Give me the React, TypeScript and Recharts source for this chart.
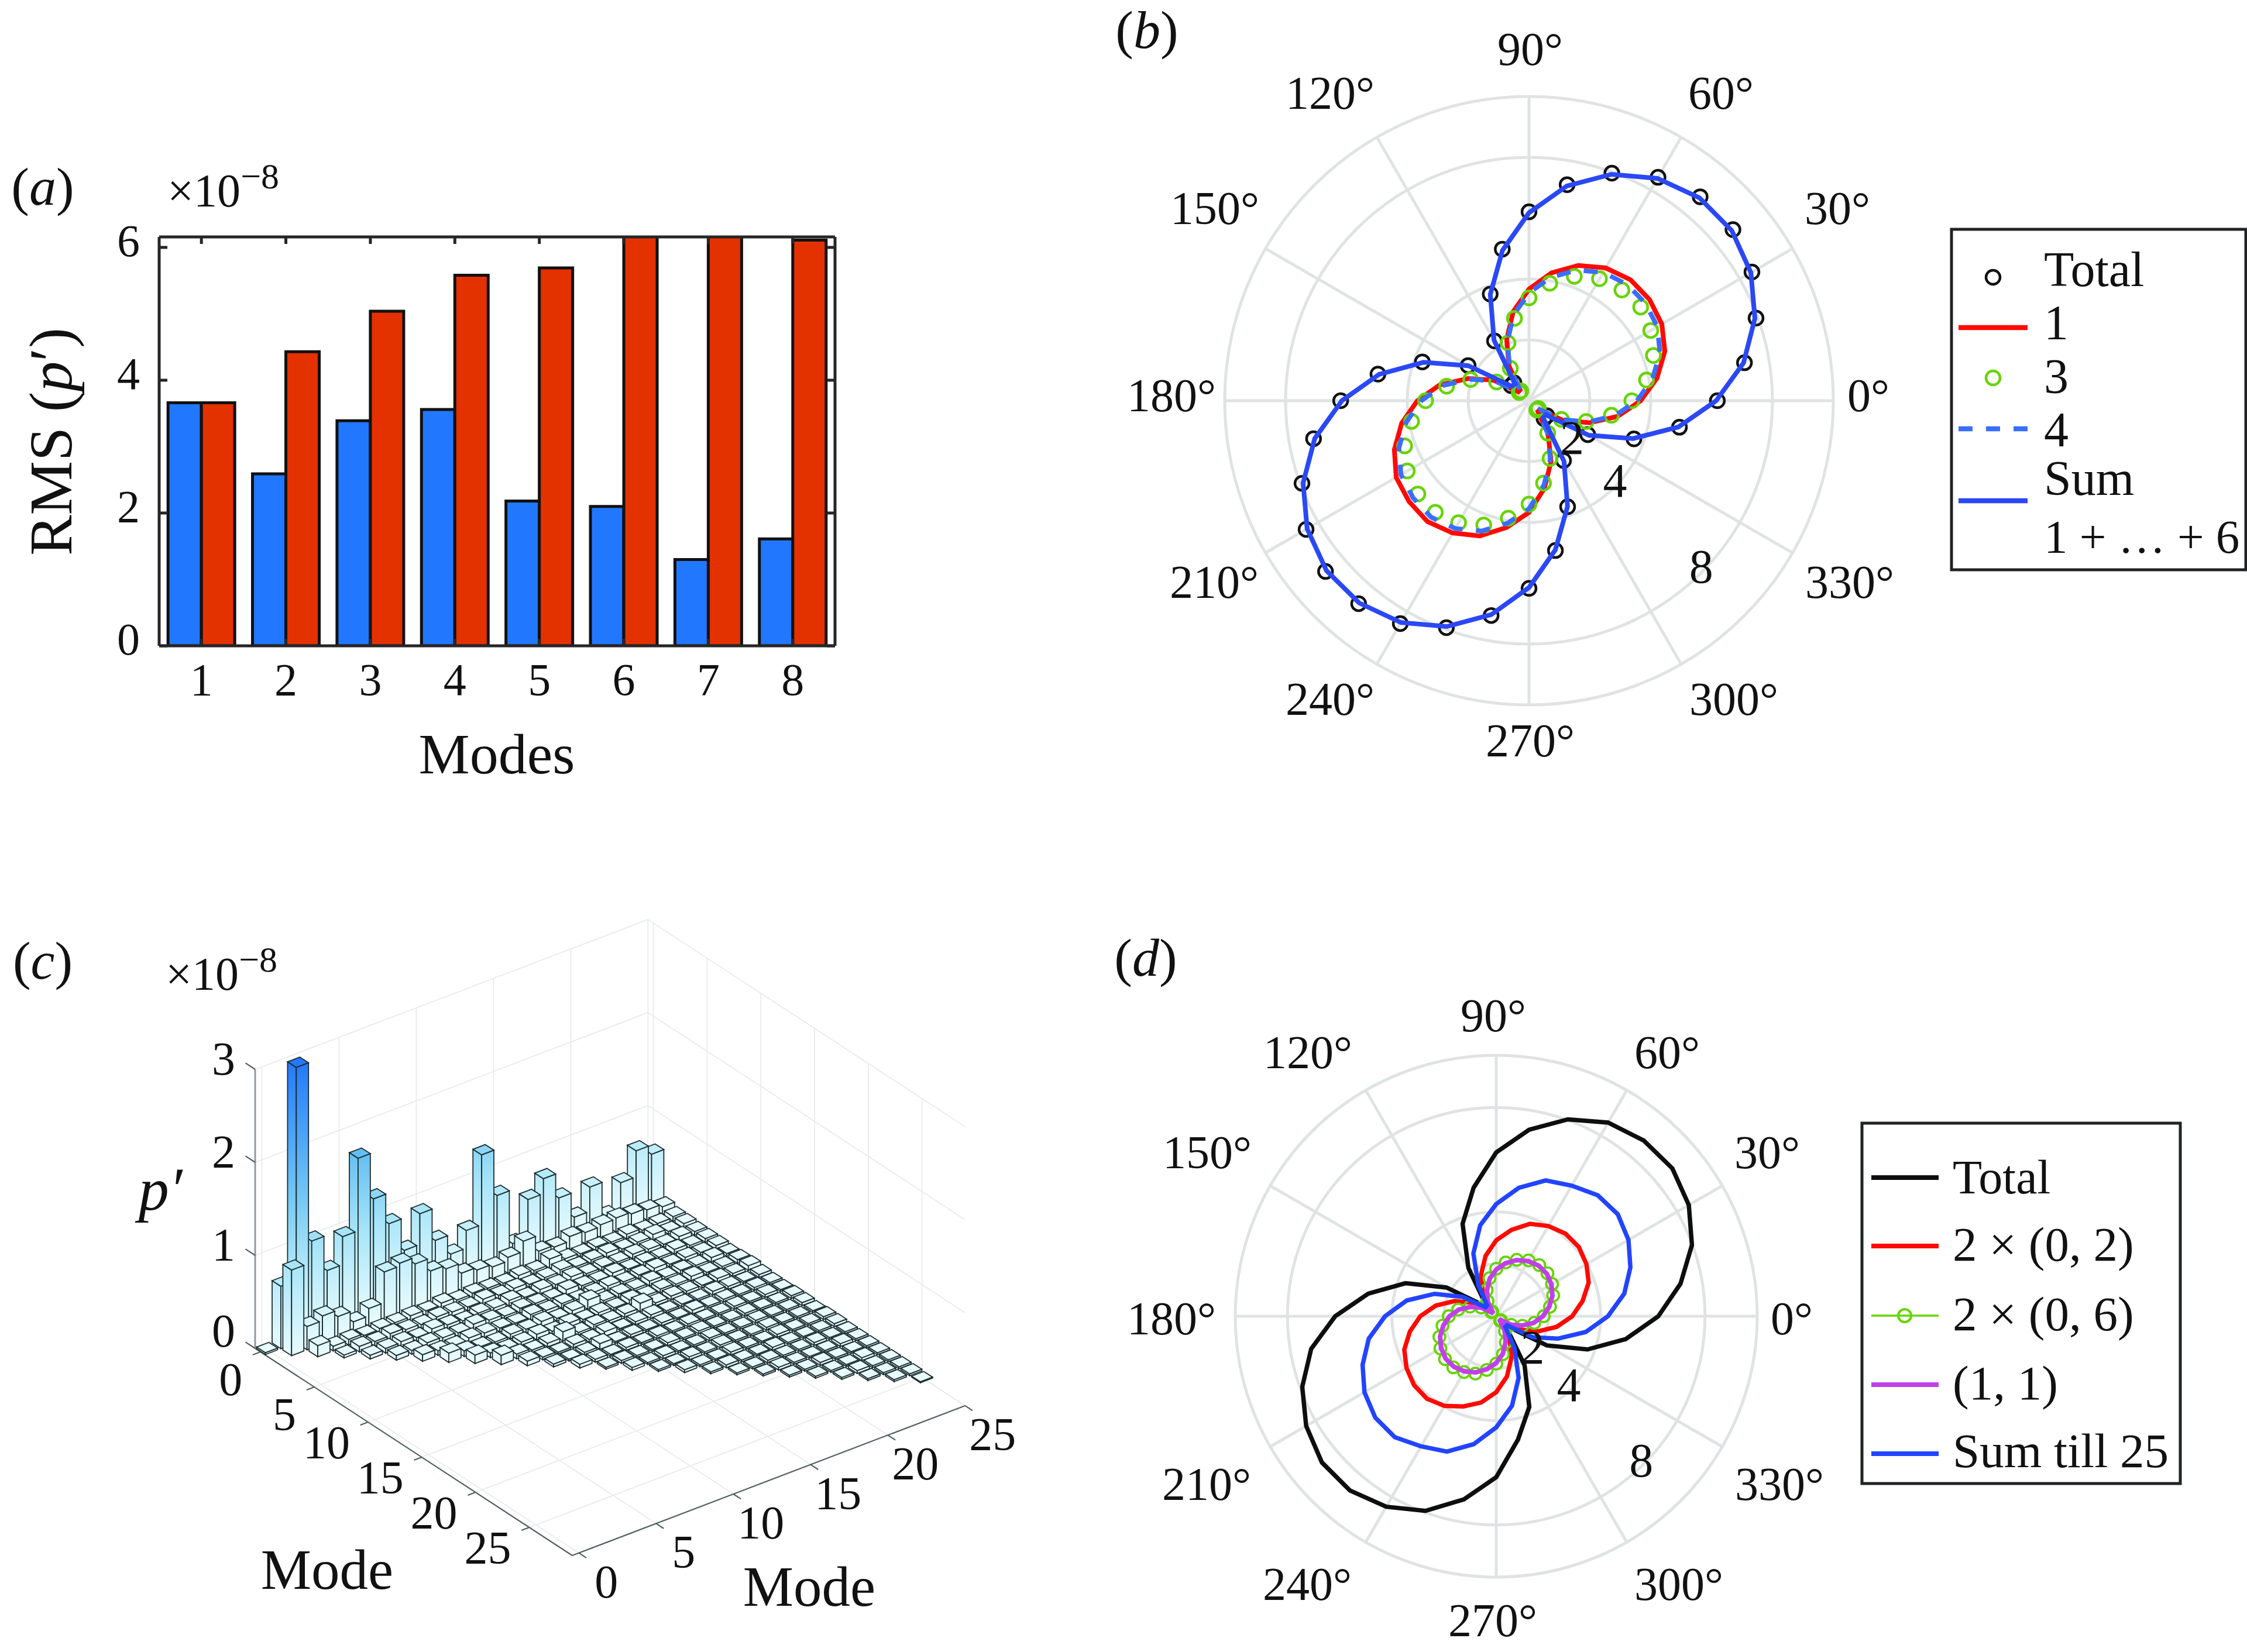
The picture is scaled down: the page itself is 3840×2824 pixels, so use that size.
import {
  Bar,
  BarChart,
  PolarAngleAxis,
  PolarGrid,
  PolarRadiusAxis,
  Radar,
  RadarChart,
  ReferenceLine,
  Scatter,
  ScatterChart,
  XAxis,
  YAxis,
} from 'recharts';

const SERIF = '"Liberation Serif", "Times New Roman", serif';
const INK = '#111111';

// panel (a)
const modes = [1, 2, 3, 4, 5, 6, 7, 8];
const rmsBlue = [3.66, 2.59, 3.39, 3.56, 2.18, 2.1, 1.3, 1.61];
const rmsRed = [3.66, 4.43, 5.04, 5.58, 5.69, 6.4, 6.4, 6.11];
const rmsTicks = [0, 2, 4, 6];

// panels (b) and (d): one radius every 10 degrees
const thetas = [
  0, 10, 20, 30, 40, 50, 60, 70, 80, 90, 100, 110, 120, 130, 140, 150, 160, 170,
  180, 190, 200, 210, 220, 230, 240, 250, 260, 270, 280, 290, 300, 310, 320, 330, 340, 350,
];
const spokeAngles = [0, 30, 60, 90, 120, 150, 180, 210, 240, 270, 300, 330];
const ringValues = [2, 4, 8, 10];
const radiusTicks = [2, 4, 8];

const bTotal = [
  6.19, 7.19, 7.94, 8.46, 8.75, 8.75, 8.48, 7.96, 7.21, 6.21, 5.06, 3.73, 2.27, 0.77, 0.77, 2.31, 3.73, 5.04,
  6.19, 7.19, 7.94, 8.46, 8.73, 8.71, 8.46, 7.94, 7.17, 6.17, 5.0, 3.71, 2.27, 0.77, 0.77, 2.23, 3.67, 5.02,
];
const bMode1 = [
  3.67, 4.27, 4.75, 5.04, 5.17, 5.19, 5.04, 4.73, 4.27, 3.67, 2.98, 2.15, 1.31, 0.46, 0.46, 1.35, 2.13, 2.98,
  3.67, 4.25, 4.71, 5.04, 5.15, 5.19, 5.02, 4.73, 4.23, 3.67, 2.92, 2.12, 1.25, 0.46, 0.46, 1.27, 2.12, 2.96,
];
const bMode3 = [
  3.38, 3.92, 4.35, 4.62, 4.79, 4.75, 4.63, 4.35, 3.92, 3.38, 2.75, 2.02, 1.23, 0.42, 0.42, 1.23, 2.04, 2.75,
  3.4, 3.92, 4.35, 4.62, 4.77, 4.79, 4.63, 4.35, 3.92, 3.4, 2.75, 2.02, 1.23, 0.4, 0.4, 1.23, 2.0, 2.75,
];
const bMode4 = [
  3.55, 4.12, 4.58, 4.87, 4.99, 5.0, 4.87, 4.57, 4.12, 3.54, 2.88, 2.08, 1.27, 0.45, 0.45, 1.3, 2.06, 2.88,
  3.54, 4.1, 4.55, 4.86, 4.97, 5.0, 4.85, 4.56, 4.09, 3.55, 2.82, 2.05, 1.21, 0.45, 0.45, 1.23, 2.05, 2.86,
];
const bSum = [
  6.15, 7.16, 7.9, 8.42, 8.7, 8.71, 8.44, 7.92, 7.17, 6.18, 5.02, 3.72, 2.3, 0.72, 0.74, 2.3, 3.69, 5.0,
  6.15, 7.15, 7.9, 8.42, 8.69, 8.68, 8.42, 7.9, 7.14, 6.14, 4.98, 3.7, 2.3, 0.72, 0.72, 2.27, 3.64, 4.98,
];

const dTotal = [
  6.21, 7.17, 7.98, 8.52, 8.81, 8.79, 8.57, 8.03, 7.26, 6.28, 5.0, 3.77, 2.13, 0.67, 0.67, 2.2, 3.7, 4.98,
  6.17, 7.2, 7.91, 8.41, 8.72, 8.72, 8.43, 7.94, 7.13, 6.17, 4.8, 3.7, 2.17, 0.67, 0.67, 2.24, 3.72, 5.04,
];
const dTwoZeroTwo = [
  2.91, 3.36, 3.77, 3.99, 4.13, 4.13, 3.99, 3.77, 3.36, 2.91, 2.35, 1.7, 1.03, 0.36, 0.36, 1.03, 1.7, 2.35,
  2.91, 3.36, 3.75, 3.97, 4.11, 4.13, 3.97, 3.68, 3.36, 2.91, 2.35, 1.7, 1.03, 0.36, 0.36, 1.03, 1.7, 2.35,
];
const dTwoZeroSix = [
  1.82, 2.09, 2.32, 2.47, 2.56, 2.56, 2.47, 2.3, 2.09, 1.82, 1.48, 1.07, 0.67, 0.24, 0.24, 0.67, 1.07, 1.48,
  1.82, 2.09, 2.32, 2.47, 2.56, 2.56, 2.47, 2.34, 2.09, 1.82, 1.48, 1.07, 0.67, 0.24, 0.24, 0.67, 1.07, 1.48,
];
const dOneOne = [
  1.79, 2.06, 2.29, 2.44, 2.53, 2.53, 2.44, 2.29, 2.06, 1.79, 1.46, 1.05, 0.65, 0.22, 0.22, 0.65, 1.05, 1.46,
  1.79, 2.06, 2.29, 2.44, 2.53, 2.53, 2.44, 2.29, 2.06, 1.79, 1.46, 1.05, 0.65, 0.22, 0.22, 0.65, 1.05, 1.46,
];
const dSum = [
  4.28, 4.98, 5.47, 5.85, 6.08, 6.05, 5.78, 5.54, 5.0, 4.3, 3.54, 2.56, 1.37, 0.54, 0.54, 1.48, 2.51, 3.48,
  4.26, 4.96, 5.45, 5.83, 6.05, 6.05, 5.76, 5.52, 4.98, 4.26, 3.48, 2.51, 1.39, 0.54, 0.54, 1.61, 2.51, 3.48,
];

// panel (c): row i holds the bars for j = i ... 25
const modeRows = [
  [0.02, 0.67, 2.96, 1.03, 0.65, 0.95, 1.73, 1.23, 0.9, 0.55, 0.88, 0.53, 0.32, 0.51, 1.26, 0.76, 0.18, 0.59, 0.75, 0.48, 0.21, 0.47, 0.1, 0.39, 0.67, 0.57],
  [0.92, 0.25, 0.3, 0.23, 0.11, 0.19, 0.52, 0.55, 0.48, 0.34, 0.3, 0.19, 0.16, 0.13, 0.17, 0.28, 0.11, 0.09, 0.14, 0.12, 0.14, 0.15, 0.13, 0.11, 0.08],
  [0.12, 0.05, 0.06, 0.04, 0.05, 0.05, 0.06, 0.05, 0.07, 0.04, 0.05, 0.04, 0.03, 0.05, 0.04, 0.1, 0.04, 0.03, 0.04, 0.03, 0.05, 0.03, 0.04, 0.05],
  [0.03, 0.06, 0.05, 0.07, 0.05, 0.04, 0.06, 0.05, 0.04, 0.06, 0.04, 0.05, 0.03, 0.04, 0.06, 0.03, 0.04, 0.05, 0.03, 0.04, 0.06, 0.03, 0.05],
  [0.04, 0.05, 0.06, 0.04, 0.07, 0.05, 0.03, 0.05, 0.04, 0.06, 0.03, 0.05, 0.04, 0.06, 0.03, 0.04, 0.03, 0.05, 0.04, 0.03, 0.05, 0.04],
  [0.05, 0.04, 0.06, 0.05, 0.04, 0.07, 0.05, 0.03, 0.05, 0.04, 0.03, 0.06, 0.04, 0.03, 0.05, 0.03, 0.04, 0.03, 0.05, 0.03, 0.04],
  [0.07, 0.05, 0.04, 0.06, 0.05, 0.04, 0.03, 0.06, 0.04, 0.05, 0.03, 0.04, 0.05, 0.03, 0.04, 0.05, 0.03, 0.04, 0.03, 0.04],
  [0.1, 0.06, 0.04, 0.03, 0.05, 0.04, 0.06, 0.03, 0.05, 0.1, 0.03, 0.04, 0.03, 0.05, 0.03, 0.04, 0.03, 0.05, 0.03],
  [0.09, 0.05, 0.03, 0.04, 0.06, 0.03, 0.05, 0.03, 0.04, 0.03, 0.05, 0.03, 0.04, 0.03, 0.05, 0.03, 0.03, 0.04],
  [0.1, 0.05, 0.03, 0.04, 0.1, 0.03, 0.05, 0.03, 0.04, 0.09, 0.03, 0.04, 0.03, 0.03, 0.04, 0.03, 0.05],
  [0.05, 0.03, 0.02, 0.04, 0.03, 0.05, 0.02, 0.03, 0.04, 0.02, 0.03, 0.02, 0.04, 0.03, 0.02, 0.03],
  [0.03, 0.02, 0.03, 0.06, 0.02, 0.03, 0.02, 0.03, 0.02, 0.04, 0.02, 0.03, 0.02, 0.03, 0.02],
  [0.04, 0.03, 0.02, 0.03, 0.02, 0.03, 0.02, 0.03, 0.02, 0.02, 0.03, 0.02, 0.03, 0.02],
  [0.02, 0.03, 0.02, 0.02, 0.03, 0.02, 0.03, 0.02, 0.02, 0.03, 0.02, 0.02, 0.03],
  [0.03, 0.02, 0.03, 0.02, 0.02, 0.03, 0.02, 0.02, 0.03, 0.02, 0.02, 0.03],
  [0.02, 0.02, 0.03, 0.02, 0.03, 0.02, 0.02, 0.03, 0.02, 0.02, 0.02],
  [0.03, 0.02, 0.02, 0.03, 0.02, 0.02, 0.03, 0.02, 0.02, 0.03],
  [0.02, 0.03, 0.02, 0.02, 0.03, 0.02, 0.02, 0.02, 0.03],
  [0.02, 0.02, 0.03, 0.02, 0.02, 0.03, 0.02, 0.02],
  [0.02, 0.03, 0.02, 0.02, 0.02, 0.03, 0.02],
  [0.02, 0.02, 0.03, 0.02, 0.02, 0.02],
  [0.02, 0.02, 0.02, 0.03, 0.02],
  [0.02, 0.03, 0.02, 0.02],
  [0.02, 0.02, 0.02],
  [0.02, 0.02],
  [0.01],
];
const floorTicks = [0, 5, 10, 15, 20, 25];
const heightTicks = [0, 1, 2, 3];

// oblique view used by panel (c): chart units are page pixels, y measured from the page bottom
const I_MIN = -0.5;
const I_MAX = 29;
const J_MIN = -0.43;
const J_MAX = 25;
const toView = (i: number, j: number, z = 0) => ({
  u: 436 + (i - I_MIN) * 18.37 + (j - J_MIN) * 26.4,
  v: 2824 - (2305 + (i - I_MIN) * 12 - (j - J_MIN) * 10.07) + z * 159,
});

const barData = modes.map((m, k) => ({ mode: m, blue: rmsBlue[k], red: rmsRed[k] }));
const polarRows = (series: Record<string, number[]>) =>
  thetas.map((theta, k) => {
    const row: Record<string, number> = { theta };
    Object.keys(series).forEach(name => {
      row[name] = series[name][k];
    });
    return row;
  });
const bData = polarRows({ total: bTotal, one: bMode1, three: bMode3, four: bMode4, sum: bSum });
const dData = polarRows({ total: dTotal, two: dTwoZeroTwo, six: dTwoZeroSix, oneOne: dOneOne, sum: dSum });

// back bars first, so nearer bars paint over them
const bar3Data = modeRows.flatMap((row, i) =>
  row
    .map((z, k) => ({ i, j: i + k, z, ...toView(i, i + k) }))
    .reverse(),
);

const heightStops: [number, number[]][] = [
  [0, [233, 251, 255]],
  [0.9, [170, 230, 248]],
  [1.75, [98, 189, 241]],
  [3, [34, 119, 255]],
];
function heightColor(z: number) {
  for (let k = 1; k < heightStops.length; k++) {
    const [z1, c1] = heightStops[k];
    const [z0, c0] = heightStops[k - 1];
    if (z <= z1) {
      const t = (z - z0) / (z1 - z0);
      return `rgb(${c0.map((c, n) => Math.round(c + (c1[n] - c) * t)).join(',')})`;
    }
  }
  return 'rgb(34,119,255)';
}

function Cuboid(props: any) {
  const { cx, cy, payload } = props;
  const h = payload.z * 159;
  const id = `bar-${payload.i}-${payload.j}`;
  const top = heightColor(payload.z);
  const edge = '#1b2b2e';
  const pts = (list: number[][]) => list.map(p => `${cx + p[0]},${cy + p[1]}`).join(' ');
  return (
    <g>
      <defs>
        <linearGradient id={id} x1="0" y1="0" x2="0" y2="1">
          {[0, 0.25, 0.5, 0.75, 1].map(f => (
            <stop key={f} offset={`${f * 100}%`} stopColor={heightColor(payload.z * (1 - f))} />
          ))}
        </linearGradient>
      </defs>
      <polygon points={pts([[-17.9, -0.8 - h], [-3, 8.8 - h], [-3, 8.8], [-17.9, -0.8]])} fill={`url(#${id})`} stroke={edge} strokeWidth={1.8} />
      <polygon points={pts([[-3, 8.8 - h], [17.9, 0.8 - h], [17.9, 0.8], [-3, 8.8]])} fill={`url(#${id})`} stroke={edge} strokeWidth={1.8} />
      <polygon points={pts([[-17.9, -0.8 - h], [3, -8.8 - h], [17.9, 0.8 - h], [-3, 8.8 - h]])} fill={top} stroke={edge} strokeWidth={1.8} />
    </g>
  );
}

function ViewText(props: any) {
  const { cx, cy, payload } = props;
  return (
    <text x={cx + payload.dx} y={cy + payload.dy} textAnchor={payload.anchor} fontFamily={SERIF} fontSize={80} fill={INK}>
      {payload.text}
    </text>
  );
}

const viewLabels = [
  ...floorTicks.map(t => ({
    text: String(t),
    anchor: 'end',
    dx: -31,
    dy: t < 10 ? 74 : 62,
    ...toView(t, J_MIN),
  })),
  ...floorTicks.map(t => ({
    text: String(t),
    anchor: 'middle',
    dx: 47,
    dy: 76,
    ...toView(I_MAX, t),
  })),
  ...heightTicks.map(t => ({
    text: String(t),
    anchor: 'middle',
    dx: -54,
    dy: t === 0 ? -3 : 9,
    ...toView(I_MIN, J_MIN, t),
  })),
];

type Pt = [number, number, number];
const GRID3 = '#e9ebeb';
const AXIS3 = '#4f5f60';
const seg = (a: Pt, b: Pt) => {
  const p = toView(a[0], a[1], a[2]);
  const q = toView(b[0], b[1], b[2]);
  return [
    { x: p.u, y: p.v },
    { x: q.u, y: q.v },
  ];
};
const gridSegments = [
  ...floorTicks.map(t => seg([t, J_MIN, 0], [t, J_MAX, 0])),
  ...floorTicks.map(t => seg([I_MIN, t, 0], [I_MAX, t, 0])),
  ...floorTicks.map(t => seg([I_MIN, t, 0], [I_MIN, t, 3])),
  ...floorTicks.map(t => seg([t, J_MAX, 0], [t, J_MAX, 3])),
  ...heightTicks.map(z => seg([I_MIN, J_MIN, z], [I_MIN, J_MAX, z])),
  ...heightTicks.map(z => seg([I_MIN, J_MAX, z], [I_MAX, J_MAX, z])),
];
const axisSegments = [
  seg([I_MIN, J_MIN, 0], [I_MAX, J_MIN, 0]),
  seg([I_MAX, J_MIN, 0], [I_MAX, J_MAX, 0]),
  ...floorTicks.map(t => seg([t, J_MIN, 0], [t, J_MIN - 0.5, 0])),
  ...floorTicks.map(t => seg([I_MAX, t, 0], [I_MAX + 0.7, t, 0])),
  ...heightTicks.map(z => seg([I_MIN, J_MIN, z], [I_MIN - 0.9, J_MIN, z])),
];

function RmsPanel() {
  const axisColor = '#262626';
  const bottomTick = (p: any) => (
    <g>
      <line x1={p.x} x2={p.x} y1={p.y} y2={p.y - 12} stroke={axisColor} strokeWidth={5} />
      <text x={p.x} y={p.y + 84} textAnchor="middle" fontFamily={SERIF} fontSize={78} fill={INK}>
        {p.payload.value}
      </text>
    </g>
  );
  const topTick = (p: any) => <line x1={p.x} x2={p.x} y1={p.y} y2={p.y + 12} stroke={axisColor} strokeWidth={5} />;
  const leftTick = (p: any) => (
    <g>
      <line x1={p.x} x2={p.x + 14} y1={p.y} y2={p.y} stroke={axisColor} strokeWidth={5} />
      <text x={p.x - 33} y={p.y + 15} textAnchor="end" fontFamily={SERIF} fontSize={78} fill={INK}>
        {p.payload.value}
      </text>
    </g>
  );
  const rightTick = (p: any) => <line x1={p.x} x2={p.x - 14} y1={p.y} y2={p.y} stroke={axisColor} strokeWidth={5} />;
  return (
    <div style={{ position: 'absolute', left: 0, top: 0 }}>
      <BarChart
        width={1500}
        height={1400}
        data={barData}
        margin={{ left: 271, top: 404, right: 72, bottom: 295 }}
        barCategoryGap="10.5%"
        barGap={0}
      >
        <XAxis dataKey="mode" height={1} interval={0} tickLine={false} tickSize={0} tickMargin={0} stroke={axisColor} strokeWidth={5} tick={bottomTick} />
        <XAxis xAxisId="top" dataKey="mode" orientation="top" height={1} interval={0} tickLine={false} tickSize={0} tickMargin={0} stroke={axisColor} strokeWidth={5} tick={topTick} />
        <YAxis width={1} domain={[0, 6.158]} ticks={rmsTicks} allowDataOverflow tickLine={false} tickSize={0} tickMargin={0} stroke={axisColor} strokeWidth={5} tick={leftTick} />
        <YAxis yAxisId="right" orientation="right" width={1} domain={[0, 6.158]} ticks={rmsTicks} allowDataOverflow tickLine={false} tickSize={0} tickMargin={0} stroke={axisColor} strokeWidth={5} tick={rightTick} />
        <Bar dataKey="blue" fill="#2277ff" stroke={INK} strokeWidth={5} isAnimationActive={false} />
        <Bar dataKey="red" fill="#e43100" stroke={INK} strokeWidth={5} isAnimationActive={false} />
      </BarChart>
    </div>
  );
}

// marker-only radar series; drawn as the series shape so later series paint over the markers
function markerShape(color: string, r: number, width: number, lineWidth = 0) {
  return (p: any) => (
    <g>
      {lineWidth > 0 && (
        <polygon points={p.points.map((q: any) => `${q.x},${q.y}`).join(' ')} fill="none" stroke={color} strokeWidth={lineWidth} />
      )}
      {p.points.map((q: any, k: number) => (
        <circle key={k} cx={q.x} cy={q.y} r={r} fill="none" stroke={color} strokeWidth={width} />
      ))}
    </g>
  );
}

const GRID_POLAR = '#dfe3e3';

// where each angle label sits, in pixels from the centre (x right, y up)
const bLabelPlace: Record<number, number[]> = {
  0: [580, 9], 30: [527, 329], 60: [328, 526], 90: [2, 601], 120: [-340, 526], 150: [-537, 329],
  180: [-611, 9], 210: [-538, -310], 240: [-340, -510], 270: [2, -581], 300: [350, -510], 330: [548, -310],
};
const dLabelPlace: Record<number, number[]> = {
  0: [505, -4], 30: [463, 280], 60: [292, 451], 90: [-5, 514], 120: [-322, 451], 150: [-494, 280],
  180: [-555, -4], 210: [-495, -287], 240: [-323, -458], 270: [-6, -520], 300: [312, -458], 330: [484, -287],
};

function polarAxes(cx: number, cy: number, R: number, radiusAngle: number, place: Record<number, number[]>) {
  const angleTick = (p: any) => {
    const value = p.payload.value;
    const spot = place[value];
    if (!spot) return <g />;
    return (
      <text x={cx + spot[0]} y={cy - spot[1] + 27} textAnchor="middle" fontFamily={SERIF} fontSize={80} fill={INK}>
        {`${value}°`}
      </text>
    );
  };
  const radiusTick = (p: any) => (
    <text x={p.x} y={p.y + 17} textAnchor="middle" fontFamily={SERIF} fontSize={82} fill={INK}>
      {p.payload.value}
    </text>
  );
  return [
    <PolarGrid
      key="grid"
      gridType="circle"
      polarAngles={spokeAngles}
      polarRadius={ringValues.map(v => (v * R) / 10)}
      stroke={GRID_POLAR}
      strokeWidth={5}
    />,
    <PolarAngleAxis key="angle" dataKey="theta" type="number" domain={[0, 360]} ticks={spokeAngles as any} axisLine={false} tickLine={false} tick={angleTick} />,
    <PolarRadiusAxis key="radius" angle={radiusAngle} type="number" domain={[0, 10]} ticks={radiusTicks as any} axisLine={false} tickLine={false} tick={radiusTick} />,
  ];
}

function PolarB() {
  return (
    <div style={{ position: 'absolute', left: 1850, top: 0 }}>
      <RadarChart width={1990} height={1350} data={bData} cx={763} cy={685} innerRadius={0} outerRadius={520} startAngle={0} endAngle={360}>
        {polarAxes(763, 685, 520, -45, bLabelPlace)}
        <Radar dataKey="total" fill="none" stroke="none" shape={markerShape(INK, 12, 4.5)} dot={false} isAnimationActive={false} />
        <Radar dataKey="one" fill="none" stroke="#ff0a00" strokeWidth={8} dot={false} isAnimationActive={false} />
        <Radar dataKey="three" fill="none" stroke="none" shape={markerShape('#66d400', 12, 4.5)} dot={false} isAnimationActive={false} />
        <Radar dataKey="four" fill="none" stroke="#3a6eff" strokeWidth={8} strokeDasharray="24 23" dot={false} isAnimationActive={false} />
        <Radar dataKey="sum" fill="none" stroke="#2a48f5" strokeWidth={8} dot={false} isAnimationActive={false} />
      </RadarChart>
    </div>
  );
}

function PolarD() {
  return (
    <div style={{ position: 'absolute', left: 1850, top: 1580 }}>
      <RadarChart width={1990} height={1244} data={dData} cx={707} cy={670} innerRadius={0} outerRadius={446} startAngle={0} endAngle={360}>
        {polarAxes(707, 670, 446, -46, dLabelPlace)}
        <Radar dataKey="total" fill="none" stroke="#0e0e0e" strokeWidth={7.5} dot={false} isAnimationActive={false} />
        <Radar dataKey="two" fill="none" stroke="#ff0a00" strokeWidth={7.5} dot={false} isAnimationActive={false} />
        <Radar dataKey="six" fill="none" stroke="none" shape={markerShape('#66d400', 10, 3.8, 3)} dot={false} isAnimationActive={false} />
        <Radar dataKey="oneOne" fill="none" stroke="#c040e8" strokeWidth={8} dot={false} isAnimationActive={false} />
        <Radar dataKey="sum" fill="none" stroke="#2244ff" strokeWidth={7.5} dot={false} isAnimationActive={false} />
      </RadarChart>
    </div>
  );
}

function Bar3Panel() {
  return (
    <div style={{ position: 'absolute', left: 0, top: 1500 }}>
      <ScatterChart width={1800} height={1324} margin={{ left: 0, right: 0, top: 0, bottom: 0 }}>
        <XAxis type="number" dataKey="u" domain={[0, 1800]} hide />
        <YAxis type="number" dataKey="v" domain={[0, 1324]} hide />
        {gridSegments.map((s, k) => (
          <ReferenceLine key={`g${k}`} segment={s} stroke={GRID3} strokeWidth={1.8} ifOverflow="visible" />
        ))}
        <ReferenceLine segment={seg([I_MIN, J_MIN, 0], [I_MIN, J_MIN, 3])} stroke="#8d9a9c" strokeWidth={3} ifOverflow="visible" />
        {axisSegments.map((s, k) => (
          <ReferenceLine key={`a${k}`} segment={s} stroke={AXIS3} strokeWidth={2.2} ifOverflow="visible" />
        ))}
        <Scatter data={bar3Data} shape={<Cuboid />} isAnimationActive={false} />
        <Scatter data={viewLabels} shape={<ViewText />} isAnimationActive={false} />
      </ScatterChart>
    </div>
  );
}

function PanelLetter({ x, y, letter }: { x: number; y: number; letter: string }) {
  return (
    <text x={x} y={y} fontFamily={SERIF} fontSize={92} fill={INK} textAnchor="middle">
      (<tspan fontStyle="italic">{letter}</tspan>)
    </text>
  );
}

function Times10({ x, y }: { x: number; y: number }) {
  return (
    <text x={x} y={y} fontFamily={SERIF} fontSize={80} fill={INK}>
      ×10
      <tspan fontSize={62} dy={-31}>
        −8
      </tspan>
    </text>
  );
}

const T = (x: number, y: number, s: string, size = 82) => (
  <text x={x} y={y} fontFamily={SERIF} fontSize={size} fill={INK}>
    {s}
  </text>
);

function Notes() {
  return (
    <svg width={3840} height={2824} style={{ position: 'absolute', left: 0, top: 0 }}>
      <PanelLetter x={73} y={350} letter="a" />
      <PanelLetter x={1960} y={82} letter="b" />
      <PanelLetter x={73} y={1673} letter="c" />
      <PanelLetter x={1958} y={1668} letter="d" />
      <Times10 x={286} y={353} />
      <Times10 x={283} y={1692} />
      <text x={849} y={1322} textAnchor="middle" fontFamily={SERIF} fontSize={98} fill={INK}>
        Modes
      </text>
      <text transform="translate(122 755) rotate(-90)" textAnchor="middle" fontFamily={SERIF} fontSize={104} fill={INK}>
        RMS (<tspan fontStyle="italic">p</tspan>′)
      </text>
      <text x={274} y={2068} textAnchor="middle" fontFamily={SERIF} fontStyle="italic" fontSize={104} fill={INK}>
        p′
      </text>
      <text x={559} y={2716} textAnchor="middle" fontFamily={SERIF} fontSize={97} fill={INK}>
        Mode
      </text>
      <text x={1383} y={2745} textAnchor="middle" fontFamily={SERIF} fontSize={97} fill={INK}>
        Mode
      </text>

      {/* legend of (b) */}
      <rect x={3335} y={392} width={503} height={582} fill="#fff" stroke="#1f2323" strokeWidth={5} />
      <circle cx={3406} cy={474} r={12} fill="none" stroke={INK} strokeWidth={4.5} />
      {T(3493, 489, 'Total', 84)}
      <line x1={3347} x2={3465} y1={560} y2={560} stroke="#ff0a00" strokeWidth={8.5} />
      {T(3493, 580, '1', 84)}
      <circle cx={3406} cy={646} r={12} fill="none" stroke="#66d400" strokeWidth={4.5} />
      {T(3493, 672, '3', 84)}
      <line x1={3347} x2={3465} y1={733} y2={733} stroke="#3a6eff" strokeWidth={8.5} strokeDasharray="24 23" />
      {T(3493, 763, '4', 84)}
      <line x1={3347} x2={3465} y1={856} y2={856} stroke="#2a48f5" strokeWidth={8.5} />
      {T(3493, 846, 'Sum', 84)}
      {T(3493, 945, '1 + … + 6', 81)}

      {/* legend of (d) */}
      <rect x={3182} y={1920} width={544} height={616} fill="#fff" stroke="#1f2323" strokeWidth={5} />
      <line x1={3198} x2={3313} y1={2013} y2={2013} stroke="#0e0e0e" strokeWidth={8} />
      {T(3337, 2040, 'Total')}
      <line x1={3198} x2={3313} y1={2130} y2={2130} stroke="#ff0a00" strokeWidth={8} />
      {T(3337, 2155, '2 × (0, 2)', 83)}
      <line x1={3198} x2={3313} y1={2249} y2={2249} stroke="#66d400" strokeWidth={3.5} />
      <circle cx={3255} cy={2249} r={11} fill="none" stroke="#66d400" strokeWidth={4} />
      {T(3337, 2274, '2 × (0, 6)', 83)}
      <line x1={3198} x2={3313} y1={2367} y2={2367} stroke="#c040e8" strokeWidth={8} />
      {T(3337, 2392, '(1, 1)', 83)}
      <line x1={3198} x2={3313} y1={2485} y2={2485} stroke="#2244ff" strokeWidth={8} />
      {T(3337, 2508, 'Sum till 25', 83)}
    </svg>
  );
}

export default function App() {
  return (
    <div style={{ position: 'absolute', left: 0, top: 0, width: 3840, height: 2824, background: '#fff', overflow: 'hidden' }}>
      <RmsPanel />
      <PolarB />
      <Bar3Panel />
      <PolarD />
      <Notes />
    </div>
  );
}
